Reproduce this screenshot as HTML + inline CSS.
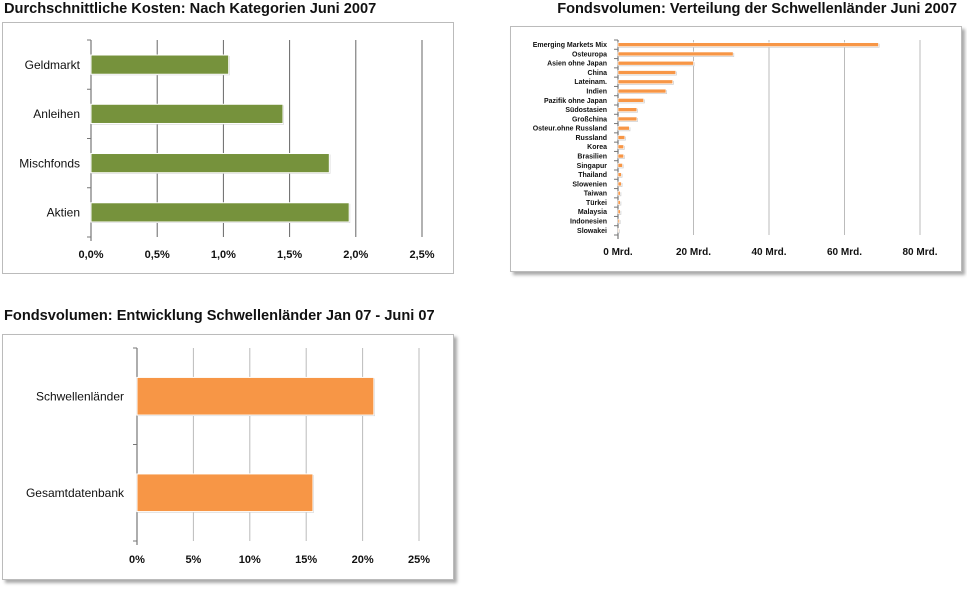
<!DOCTYPE html>
<html><head><meta charset="utf-8">
<style>
body{margin:0;width:967px;height:589px;background:#fff;font-family:"Liberation Sans",sans-serif;position:relative;overflow:hidden}
.t{position:absolute;font-weight:bold;font-size:14.6px;color:#111;white-space:nowrap}
.p{position:absolute;background:#fff;border:1px solid #bbb}
.sh{box-shadow:3px 3px 3px #aaa}
svg{position:absolute;left:0;top:0}
</style></head><body>
<div class="t" style="left:4px;top:1px">Durchschnittliche Kosten: Nach Kategorien Juni 2007</div>
<div class="t" style="right:10px;top:1px">Fondsvolumen: Verteilung der Schwellenländer Juni 2007</div>
<div class="t" style="left:4px;top:308px">Fondsvolumen: Entwicklung Schwellenländer Jan 07 - Juni 07</div>
<div class="p" style="left:2px;top:22px;width:450px;height:250px"></div>
<div class="p sh" style="left:510px;top:26px;width:450px;height:244px"></div>
<div class="p sh" style="left:2px;top:334px;width:450px;height:244px"></div>
<svg id="s" width="967" height="589"></svg>
<script>
const costCats=["Geldmarkt","Anleihen","Mischfonds","Aktien"];
const costVals=[1.04,1.45,1.8,1.95];
const costTicks=["0,0%","0,5%","1,0%","1,5%","2,0%","2,5%"];
const volCats=["Emerging Markets Mix","Osteuropa","Asien ohne Japan","China","Lateinam.","Indien","Pazifik ohne Japan","Südostasien","Großchina","Osteur.ohne Russland","Russland","Korea","Brasilien","Singapur","Thailand","Slowenien","Taiwan","Türkei","Malaysia","Indonesien","Slowakei"];
const volVals=[69,30.5,20,15.3,14.5,12.7,6.8,5,5,3,1.8,1.5,1.5,1.2,0.9,0.9,0.6,0.6,0.6,0.4,0.2];
const volTicks=["0 Mrd.","20 Mrd.","40 Mrd.","60 Mrd.","80 Mrd."];
const grCats=["Schwellenländer","Gesamtdatenbank"];
const grVals=[21,15.6];
const grTicks=["0%","5%","10%","15%","20%","25%"];
const NS="http://www.w3.org/2000/svg",S=document.getElementById('s');
function el(t,a,txt){const e=document.createElementNS(NS,t);for(const k in a)e.setAttribute(k,a[k]);if(txt!==undefined)e.textContent=txt;S.appendChild(e);return e;}
function chart(o){
 const x=v=>o.x0+(v/o.max)*(o.x1-o.x0);
 const n=o.cats.length,band=(o.y1-o.y0)/n;
 o.ticks.forEach((t,i)=>{const v=o.max*i/(o.ticks.length-1),xx=x(v);
  if(i>0){const g=el('line',{x1:xx,x2:xx,y1:o.y0,y2:o.y1,stroke:o.grid,'stroke-width':1});}
  const l=el('text',{x:xx,y:o.ty,'text-anchor':'middle','font-size':o.tfs,'font-weight':'bold',fill:'#111'},t);
  });
 const ax=el('line',{x1:o.x0,x2:o.x0,y1:o.y0,y2:o.y1+4,stroke:'#777','stroke-width':1.2});
 
 for(let i=0;i<=n;i++){el('line',{x1:o.x0-4,x2:o.x0,y1:o.y0+i*band,y2:o.y0+i*band,stroke:'#777'});}
 o.cats.forEach((c,i)=>{const cy=o.y0+band*(i+0.5),h=band*o.frac;
  el('rect',{x:o.x0+1,y:cy-h/2+1,width:Math.max(0,x(o.vals[i])-o.x0),height:h,fill:'#ccc'});
  const b=el('rect',{x:o.x0,y:cy-h/2,width:Math.max(0,x(o.vals[i])-o.x0),height:h,fill:o.color,stroke:'#fff','stroke-width':o.sw});
  
  const l=el('text',{x:o.lx,y:cy+o.cfs*0.35,'text-anchor':'end','font-size':o.cfs,'font-weight':o.cw,fill:'#111'},c);
  });
}
chart({cats:costCats,vals:costVals,ticks:costTicks,max:2.5,x0:91,x1:422,y0:40,y1:237,frac:0.39,color:'#76923c',grid:'#666',lx:80,ty:258,tfs:11,cfs:12,cw:'normal',sw:1});
chart({cats:volCats,vals:volVals,ticks:volTicks,max:80,x0:618,x1:920,y0:40,y1:235,frac:0.42,color:'#f79646',grid:'#bbb',lx:607,ty:255,tfs:10,cfs:7,cw:'bold',sw:0.6});
chart({cats:grCats,vals:grVals,ticks:grTicks,max:25,x0:137,x1:419,y0:348,y1:541,frac:0.39,color:'#f79646',grid:'#bbb',lx:124,ty:563,tfs:11,cfs:12,cw:'normal',sw:1});
</script>
</body></html>
